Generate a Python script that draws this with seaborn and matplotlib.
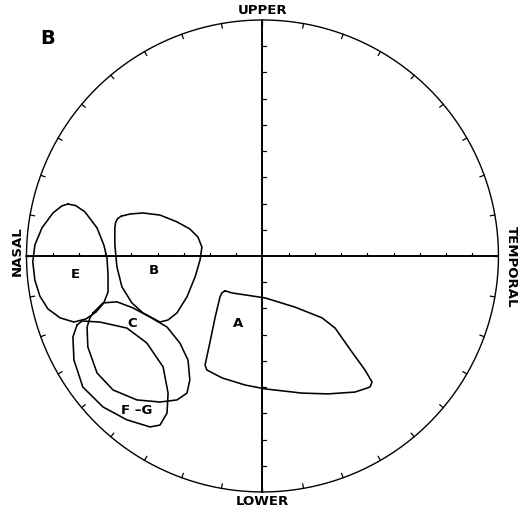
import numpy as np
import pandas as pd
import matplotlib
matplotlib.use("Agg")
import matplotlib.pyplot as plt
import seaborn as sns

# Isopter outlines, in degrees of visual field (x: nasal<0<temporal, y: lower<0<upper)
iso_E_x = [-74.2, -71.2, -67.7, -63.1, -60.5, -59.3, -58.9, -58.9, -60.5, -63.5, -67.3,
           -71.9, -77.2, -81.8, -84.9, -86.8, -87.6, -86.8, -84.1, -79.9, -76.5]
iso_E_y = [19.8, 19.2, 16.8, 10.7, 4.2, -0.8, -7.2, -13.7, -17.9, -21.4, -24.0,
           -25.2, -23.6, -20.2, -15.3, -9.2, -2.3, 4.2, 10.7, 16.4, 19.1]

iso_B_x = [-53.8, -50.5, -45.6, -39.1, -32.6, -27.7, -24.6, -23.1, -23.8, -25.7,
           -28.8, -32.6, -36.0, -39.1, -45.6, -49.8, -53.6, -55.5, -56.3, -56.3,
           -56.0, -55.2]
iso_B_y = [15.2, 16.0, 16.4, 15.6, 13.0, 10.3, 7.2, 3.4, -1.5, -8.0,
           -15.6, -21.7, -24.4, -25.2, -21.7, -17.9, -11.8, -4.2, 4.2, 10.7,
           12.9, 14.3]

iso_C_x = [-64.6, -60.8, -55.5, -49.4, -42.9, -36.4, -31.5, -28.4, -27.7, -28.8,
           -32.6, -39.1, -47.9, -57.0, -63.1, -66.6, -66.9, -65.8]
iso_C_y = [-21.7, -17.9, -17.5, -19.8, -23.3, -27.1, -33.2, -39.7, -47.3, -52.3,
           -54.9, -55.7, -54.9, -51.1, -44.6, -34.7, -27.1, -23.6]

iso_FG_x = [-70.7, -68.8, -62.0, -51.7, -44.1, -37.9, -36.0, -36.4, -39.1, -42.9,
            -51.7, -60.8, -68.5, -71.9, -72.3]
iso_FG_y = [-26.3, -24.8, -25.2, -27.5, -33.2, -42.3, -52.3, -59.9, -64.5, -65.2,
            -62.5, -57.6, -50.0, -39.7, -30.9]

iso_A_x = [-14.3, -11.6, 1.0, 12.4, 22.7, 27.7, 34.1, 39.1, 41.8, 41.0,
           35.3, 25.0, 15.1, 1.0, -6.7, -15.4, -21.2, -21.9, -20.0, -18.1, -16.2,
           -15.5]
iso_A_y = [-13.3, -14.1, -16.0, -19.5, -23.6, -27.5, -36.6, -43.5, -48.1, -50.0,
           -51.9, -52.6, -52.3, -50.7, -49.2, -46.5, -43.5, -41.6, -32.8, -23.6, -15.6,
           -14.1]

isopter_names = ["E", "B", "C", "F-G", "A"]
label_text = ["E", "B", "C", "F \u2013G", "A"]
label_x = [-71.5, -41.4, -49.8, -47.9, -9.3]
label_y = [-6.9, -5.7, -25.9, -59.1, -25.6]

field_radius = 90
ring_step = 10      # degrees between radial ticks along the meridians
angle_step = 10     # degrees between ticks around the perimeter

# long-form table of closed outlines
frames = []
for name, xs, ys in [("E", iso_E_x, iso_E_y), ("B", iso_B_x, iso_B_y),
                     ("C", iso_C_x, iso_C_y), ("F-G", iso_FG_x, iso_FG_y),
                     ("A", iso_A_x, iso_A_y)]:
    xs = list(xs) + [xs[0]]
    ys = list(ys) + [ys[0]]
    frames.append(pd.DataFrame({"x": xs, "y": ys, "isopter": name,
                                "order": range(len(xs))}))
outlines = pd.concat(frames, ignore_index=True)

sns.set_style("white")
plt.rcParams["font.family"] = ["DejaVu Sans"]

fig = plt.figure(figsize=(5.26, 5.08), dpi=100)
ax = fig.add_axes([0, 0, 1, 1])
ax.set_xlim(-100.1, 100.5)
ax.set_ylim(-96.1, 97.6)
ax.set_aspect("equal")
ax.axis("off")

ink = "black"

# perimeter circle
theta = np.linspace(0, 2 * np.pi, 721)
ax.plot(field_radius * np.cos(theta), field_radius * np.sin(theta),
        color=ink, lw=1.0)

# perimeter ticks pointing inward
for deg in np.arange(0, 360, angle_step):
    a = np.deg2rad(deg)
    r0, r1 = field_radius, field_radius - 1.8
    ax.plot([r0 * np.cos(a), r1 * np.cos(a)], [r0 * np.sin(a), r1 * np.sin(a)],
            color=ink, lw=0.9)

# meridians
ax.plot([-field_radius, field_radius], [0, 0], color=ink, lw=1.4)
ax.plot([0, 0], [-field_radius, field_radius], color=ink, lw=1.4)

# eccentricity ticks along meridians
for r in np.arange(ring_step, field_radius, ring_step):
    for s in (-1, 1):
        ax.plot([s * r, s * r], [0, 1.3], color=ink, lw=0.9)
        ax.plot([0, 1.3], [s * r, s * r], color=ink, lw=0.9)

# isopters
sns.lineplot(data=outlines, x="x", y="y", units="isopter", estimator=None,
             sort=False, color=ink, lw=1.15, ax=ax, legend=False,
             solid_joinstyle="round")

label_font = dict(fontsize=9.5, fontweight="bold", color=ink,
                  ha="center", va="center")
for text, lx, ly in zip(label_text, label_x, label_y):
    ax.text(lx, ly, text, **label_font)

# meridian names
ax.text(0, 93.6, "UPPER", **label_font)
ax.text(0, -93.8, "LOWER", **label_font)
ax.text(-93.6, 1.8, "NASAL", rotation=90, **label_font)
ax.text(94.8, -4.0, "TEMPORAL", rotation=-90, **label_font)

# panel letter
ax.text(-82.0, 83.0, "B", fontsize=14, fontweight="bold", color=ink,
        ha="center", va="center")

fig.savefig("out.png", dpi=100, facecolor="white")
